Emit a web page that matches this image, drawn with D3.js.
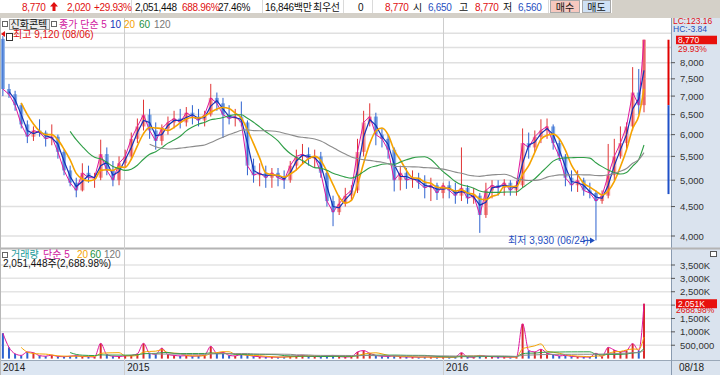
<!DOCTYPE html>
<html lang="ko">
<head>
<meta charset="UTF-8">
<title>신화콘텍</title>
<script src="https://d3js.org/d3.v7.min.js"></script>
<style>
  body { margin: 0; padding: 0; background: #fff; }
  svg { display: block; font-family: "Liberation Sans", "Noto Sans CJK KR", sans-serif; font-size: 10px; }
  .hdr { letter-spacing: -0.3px; }
  .ax { font-size: 9.5px; }
  .ax2 { font-size: 8.5px; }
</style>
</head>
<body>
<div id="chart"></div>
<script>
// weekly bars (last one = 08/18)
const open = [
  8800, 7200, 7050, 6750, 6250, 5950, 6100, 6050, 5900, 5950,
  5600, 5200, 4950, 4800, 5150, 5050, 5050, 5550, 5200, 5000,
  5350, 5500, 5900, 6200, 6500, 6100, 5850, 6150, 6300, 6400,
  6300, 6550, 6450, 6350, 6500, 6950, 6800, 6500, 6400, 6450,
  6300, 5300, 5100, 5150, 5050, 5150, 5050, 5000, 5300, 5500,
  5550, 5450, 5500, 5150, 4600, 4400, 4550, 4700, 4800, 5600,
  6300, 6450, 6000, 5900, 5650, 5000, 5150, 5000, 5050, 4950,
  4850, 4900, 4750, 4900, 4800, 4700, 4850, 4650, 4700, 4350,
  4800, 4900, 4850, 4950, 4800, 4900, 5800, 5700, 5950, 6100,
  6200, 5800, 5500, 5050, 4900, 5000, 4800, 4750, 4600, 4700,
  5100, 5500, 5800, 6200, 7100, 6750
];
const high = [
  8900, 7350, 7150, 6800, 6350, 6200, 6380, 6100, 6250, 6000,
  5650, 5300, 5050, 5350, 5300, 5150, 5880, 5700, 5400, 5500,
  5650, 6050, 6400, 6900, 6650, 6300, 6250, 6450, 6600, 6650,
  6700, 6750, 6650, 6600, 7350, 7100, 6950, 6750, 6650, 6850,
  6350, 5450, 5350, 5300, 5250, 5250, 5200, 5400, 5650, 5780,
  5700, 5650, 5600, 5200, 4700, 4700, 4850, 4900, 5900, 6600,
  6800, 6550, 6150, 6000, 5700, 5300, 5250, 5200, 5150, 5100,
  5050, 4950, 4950, 4980, 4950, 5700, 4900, 4850, 4750, 4950,
  5000, 5000, 5020, 5000, 4980, 6150, 6050, 6100, 6380, 6400,
  6250, 5900, 5550, 5200, 5200, 5050, 4950, 4800, 4800, 5780,
  5900, 6200, 6300, 7860, 7800, 8770
];
const low = [
  7000, 6950, 6600, 6150, 5800, 5850, 5950, 5720, 5750, 5450,
  5100, 4880, 4670, 4780, 4950, 4850, 5000, 5100, 4880, 4900,
  5250, 5450, 5800, 6100, 5900, 5650, 5750, 6000, 6150, 6150,
  6200, 6250, 6200, 6200, 6450, 6600, 5920, 6250, 6200, 6200,
  5100, 4950, 4880, 4850, 4850, 4880, 4830, 4950, 5200, 5350,
  5300, 5250, 5050, 4500, 4160, 4350, 4500, 4600, 4750, 5500,
  6200, 5750, 5700, 5450, 4780, 4800, 4830, 4850, 4830, 4650,
  4600, 4620, 4650, 4650, 4550, 4600, 4550, 4550, 4050, 4300,
  4650, 4700, 4700, 4700, 4700, 4850, 5450, 5600, 5800, 5900,
  5650, 5400, 4880, 4780, 4770, 4700, 4650, 3930, 4550, 4650,
  5000, 5450, 5650, 6100, 6500, 6560
];
const close = [
  7200, 7050, 6750, 6250, 5950, 6100, 6050, 5900, 5950, 5600,
  5200, 4950, 4800, 5150, 5050, 5050, 5550, 5200, 5000, 5350,
  5500, 5900, 6200, 6500, 6100, 5850, 6150, 6300, 6400, 6300,
  6550, 6450, 6350, 6500, 6950, 6800, 6500, 6400, 6450, 6300,
  5300, 5100, 5150, 5050, 5150, 5050, 5000, 5300, 5500, 5550,
  5450, 5500, 5150, 4600, 4400, 4550, 4700, 4800, 5600, 6300,
  6450, 6000, 5900, 5650, 5000, 5150, 5000, 5050, 4950, 4850,
  4900, 4750, 4900, 4800, 4700, 4850, 4650, 4700, 4350, 4800,
  4900, 4850, 4950, 4800, 4900, 5800, 5700, 5950, 6100, 6200,
  5800, 5500, 5050, 4900, 5000, 4800, 4750, 4600, 4700, 5100,
  5500, 5800, 6200, 7100, 6750, 8770
];
const volume = [
  950000, 420000, 180000, 120000, 250000, 220000, 110000, 90000, 130000, 80000,
  70000, 90000, 110000, 80000, 70000, 60000, 570000, 150000, 90000, 80000,
  100000, 120000, 180000, 570000, 200000, 160000, 390000, 150000, 120000, 100000,
  110000, 90000, 100000, 130000, 460000, 200000, 240000, 120000, 100000, 150000,
  130000, 90000, 70000, 60000, 60000, 50000, 60000, 80000, 100000, 130000,
  90000, 80000, 70000, 110000, 120000, 80000, 60000, 70000, 250000, 300000,
  200000, 120000, 90000, 80000, 100000, 70000, 60000, 60000, 50000, 60000,
  60000, 50000, 60000, 50000, 60000, 220000, 60000, 50000, 120000, 90000,
  70000, 60000, 60000, 50000, 60000, 1300000, 300000, 250000, 350000, 200000,
  150000, 100000, 120000, 80000, 70000, 60000, 60000, 200000, 80000, 420000,
  320000, 250000, 300000, 560000, 300000, 2051448
];

const priceTicks = [4000, 4500, 5000, 5500, 6000, 6500, 7000, 7500, 8000];
const priceGrid = [4000, 4500, 5000, 5500, 6000, 6500, 7000, 7500, 8000, 8500, 9000];
const volTicks = [500000, 1000000, 1500000, 2500000, 3000000, 3500000];
const volTickLabels = ['500,000', '1,000K', '1,500K', '2,500K', '3,000K', '3,500K'];
const volGrid = [500000, 1000000, 1500000, 2000000, 2500000, 3000000, 3500000];
const todayRange = [8770, 6750, 4730]; // 현재가, 전일종가, 하단

// 5/10/20/60/120 day MAs, as week windows
const priceMA = [
  { n: 1, color: '#e0169e', w: 1 },
  { n: 2, color: '#1432b8', w: 1.2 },
  { n: 4, color: '#f5a300', w: 1.6 },
  { n: 12, color: '#2e9e46', w: 1.1 },
  { n: 25, color: '#8c8c8c', w: 1.1 }
];
const volMA = [
  { n: 1, color: '#e0169e' },
  { n: 4, color: '#f5a300' },
  { n: 12, color: '#2e9e46' },
  { n: 25, color: '#8c8c8c' }
];

const RED = '#e01010', BLUE = '#1f4fbf';
const width = 720, height = 375;
const plotR = 671;

const dates = d3.timeFriday.range(new Date(2014, 7, 15), new Date(2016, 7, 13));
dates.push(new Date(2016, 7, 18));
const bars = dates.map((d, i) => ({ date: d, o: open[i], h: high[i], l: low[i], c: close[i], v: volume[i] }));

const x = d3.scaleTime().domain([new Date(2014, 7, 14), new Date(2016, 7, 18)]).range([2, 644]);
const yP = d3.scaleLog().domain([4000, 8000]).range([236, 62.7]);
const yV = d3.scaleLinear().domain([0, 3500000]).range([358.6, 265]);

function movingAvg(arr, n) {
  return arr.map((v, i) => i < n - 1 ? null : d3.mean(arr.slice(i - n + 1, i + 1)));
}

const svg = d3.select('#chart').append('svg')
  .attr('width', width)
  .attr('height', height);

// ---- header row ----
svg.append('rect').attr('x', 0).attr('y', 0).attr('width', width).attr('height', 14).attr('fill', '#fff');
svg.append('rect').attr('x', 612).attr('y', 0).attr('width', 108).attr('height', 14).attr('fill', '#d4d0c8');
svg.append('rect').attr('x', 0).attr('y', 13).attr('width', width).attr('height', 5).attr('fill', '#d4d0c8');
[131, 262, 343, 372, 548].forEach(px => {
  svg.append('line').attr('x1', px + 0.5).attr('x2', px + 0.5).attr('y1', 0).attr('y2', 13).attr('stroke', '#dadada');
});

const header = [
  { t: '8,770', x: 22, c: RED }, { t: '2,020', x: 67, c: RED }, { t: '+29.93%', x: 94, c: RED },
  { t: '2,051,448', x: 135, c: '#111' }, { t: '688.96%', x: 182, c: RED }, { t: '27.46%', x: 218, c: '#111' },
  { t: '16,846백만', x: 265, c: '#111' }, { t: '최우선', x: 313, c: '#111' }, { t: '0', x: 358, c: '#111' },
  { t: '8,770', x: 385, c: RED }, { t: '시', x: 413, c: '#111' }, { t: '6,650', x: 428, c: BLUE },
  { t: '고', x: 459, c: '#111' }, { t: '8,770', x: 475, c: RED }, { t: '저', x: 503, c: '#111' },
  { t: '6,560', x: 518, c: BLUE }
];
svg.append('g').attr('class', 'hdr').selectAll('text').data(header).join('text')
  .attr('x', d => d.x).attr('y', 11)
  .attr('fill', d => d.c)
  .text(d => d.t);

// up arrow next to price
svg.append('path')
  .attr('d', 'M50,6.5 L54,2 L58,6.5 L55.5,6.5 L55.5,11 L52.5,11 L52.5,6.5 Z')
  .attr('fill', RED);

// buy / sell buttons
svg.append('rect').attr('x', 550.5).attr('y', 0.5).attr('width', 29).attr('height', 12).attr('fill', '#f6c8bf').attr('stroke', '#a8a8a8');
svg.append('text').attr('x', 565).attr('y', 10.5).attr('text-anchor', 'middle').attr('fill', '#111').text('매수');
svg.append('rect').attr('x', 582.5).attr('y', 0.5).attr('width', 28).attr('height', 12).attr('fill', '#cfe1f5').attr('stroke', '#a8a8a8');
svg.append('text').attr('x', 596.5).attr('y', 10.5).attr('text-anchor', 'middle').attr('fill', '#111').text('매도');

// ---- right axis column + bottom band ----
svg.append('rect').attr('x', plotR).attr('y', 18).attr('width', width - plotR).attr('height', height - 18).attr('fill', '#dae3ee');
svg.append('rect').attr('x', 0).attr('y', 361).attr('width', plotR).attr('height', 14).attr('fill', '#dce6f2');
svg.append('line').attr('x1', 0).attr('x2', width).attr('y1', 360.5).attr('y2', 360.5).attr('stroke', '#9aa8b8');
svg.append('line').attr('x1', plotR + 0.5).attr('x2', plotR + 0.5).attr('y1', 18).attr('y2', height).attr('stroke', '#8a9bb0');
svg.append('line').attr('x1', 0).attr('x2', width).attr('y1', 248.5).attr('y2', 248.5).attr('stroke', '#b4b4b4').attr('stroke-width', 2);

// ---- gridlines ----
const grid = svg.append('g');
grid.selectAll('line.pg').data(priceGrid).join('line')
  .attr('x1', 0).attr('x2', plotR)
  .attr('y1', d => yP(d)).attr('y2', d => yP(d))
  .attr('stroke', '#e0e0e0').attr('stroke-width', 1.5);
grid.selectAll('line.vg').data(volGrid).join('line')
  .attr('x1', 0).attr('x2', plotR)
  .attr('y1', d => yV(d)).attr('y2', d => yV(d))
  .attr('stroke', '#e4e4e4').attr('stroke-width', 1.5);

const years = x.ticks(d3.timeYear.every(1));
grid.selectAll('line.yr').data(years).join('line')
  .attr('x1', d => Math.round(x(d)) + 0.5).attr('x2', d => Math.round(x(d)) + 0.5)
  .attr('y1', 18).attr('y2', height)
  .attr('stroke', '#cdcdcd');
svg.append('line').attr('x1', 0.5).attr('x2', 0.5).attr('y1', 18).attr('y2', height).attr('stroke', '#b8b8b8');

// year labels
svg.append('text').attr('x', 3).attr('y', 371).attr('fill', '#222').text('2014');
svg.append('g').selectAll('text').data(years).join('text')
  .attr('x', d => x(d) + 3).attr('y', 371).attr('fill', '#222')
  .text(d3.timeFormat('%Y'));
svg.append('text').attr('x', 679).attr('y', 371).attr('fill', '#222').text('08/18');

// ---- candles ----
svg.append('clipPath').attr('id', 'clipP').append('rect').attr('x', 0).attr('y', 18).attr('width', plotR).attr('height', 230);
const candles = svg.append('g').attr('clip-path', 'url(#clipP)');
candles.selectAll('rect').data(bars).join('rect')
  .attr('x', d => x(d.date) - 2)
  .attr('width', 4)
  .attr('y', d => yP(Math.max(d.o, d.c)))
  .attr('height', d => Math.max(1, Math.abs(yP(d.o) - yP(d.c))))
  .attr('fill', d => d.c >= d.o ? '#f39a9a' : '#86aee6');
candles.selectAll('line').data(bars).join('line')
  .attr('x1', d => x(d.date)).attr('x2', d => x(d.date))
  .attr('y1', d => yP(d.h)).attr('y2', d => yP(d.l))
  .attr('stroke', d => d.c >= d.o ? '#e03535' : '#2d62cf')
  .attr('stroke-width', 1);

// price MAs
priceMA.forEach(m => {
  const vals = movingAvg(close, m.n);
  const line = d3.line()
    .defined((d, i) => vals[i] != null)
    .x(d => x(d.date))
    .y((d, i) => yP(vals[i]))
    .curve(m.n >= 4 ? d3.curveMonotoneX : d3.curveLinear);
  candles.append('path').datum(bars)
    .attr('d', line)
    .attr('fill', 'none')
    .attr('stroke', m.color)
    .attr('stroke-width', m.w);
});

// today's range bar by the axis
svg.append('line').attr('x1', 668.5).attr('x2', 668.5)
  .attr('y1', yP(todayRange[0])).attr('y2', yP(todayRange[1]))
  .attr('stroke', '#e00000').attr('stroke-width', 2);
svg.append('line').attr('x1', 668.5).attr('x2', 668.5)
  .attr('y1', yP(todayRange[1])).attr('y2', yP(todayRange[2]))
  .attr('stroke', '#1f50c8').attr('stroke-width', 2);

// price axis labels
const pAxis = svg.append('g').attr('class', 'ax');
pAxis.selectAll('line').data(priceTicks).join('line')
  .attr('x1', plotR).attr('x2', plotR + 4)
  .attr('y1', d => yP(d)).attr('y2', d => yP(d))
  .attr('stroke', '#555');
pAxis.selectAll('text').data(priceTicks).join('text')
  .attr('x', 680).attr('y', d => yP(d) + 3.5)
  .attr('fill', '#333')
  .text(d3.format(','));
svg.append('text').attr('class', 'ax2').attr('x', 673).attr('y', 24).attr('fill', RED).text('LC:123.16');
svg.append('text').attr('class', 'ax2').attr('x', 673).attr('y', 32).attr('fill', BLUE).text('HC:-3.84');
svg.append('rect').attr('x', 676).attr('y', yP(8770) - 4).attr('width', 41).attr('height', 8.5).attr('fill', '#e8100c');
svg.append('text').attr('class', 'ax2').attr('x', 678).attr('y', yP(8770) + 3.3).attr('fill', '#fff').text('8,770');
svg.append('text').attr('class', 'ax2').attr('x', 678).attr('y', 52).attr('fill', RED).text('29.93%');

// price panel legend
svg.append('rect').attr('x', 2.5).attr('y', 21.5).attr('width', 5).attr('height', 5).attr('fill', '#fff').attr('stroke', '#666');
svg.append('rect').attr('x', 9.5).attr('y', 19.5).attr('width', 40).attr('height', 10).attr('fill', '#ececec').attr('stroke', '#9a9a9a');
svg.append('text').attr('x', 10.5).attr('y', 28).attr('fill', '#111').text('신화콘텍');
svg.append('rect').attr('x', 51.5).attr('y', 21.5).attr('width', 5).attr('height', 5).attr('fill', '#fff').attr('stroke', '#666');
const pLegend = [
  { t: '종가 단순 5', x: 59, c: '#d0169e' }, { t: '10', x: 110, c: '#1432b8' },
  { t: '20', x: 124, c: '#f5a300' }, { t: '60', x: 139, c: '#1e9040' }, { t: '120', x: 154, c: '#777' }
];
svg.append('g').selectAll('text').data(pLegend).join('text')
  .attr('x', d => d.x).attr('y', 28).attr('fill', d => d.c).text(d => d.t);

// highest marker (off to the left)
svg.append('path').attr('d', 'M1,34 L5,31 L5,37 Z').attr('fill', RED);
svg.append('rect').attr('x', 6.5).attr('y', 33.5).attr('width', 6).attr('height', 7).attr('fill', '#fff').attr('stroke', '#333');
svg.append('text').attr('x', 13).attr('y', 37.5).attr('fill', RED).text('최고 9,120 (08/06)');

// lowest marker
const iLow = low.indexOf(d3.min(low));
const lowX = x(dates[iLow]);
svg.append('text').attr('x', lowX - 88).attr('y', yP(low[iLow]) + 4).attr('fill', BLUE).text('최저 3,930 (06/24)');
svg.append('line').attr('x1', lowX - 12).attr('x2', lowX - 3)
  .attr('y1', yP(low[iLow])).attr('y2', yP(low[iLow]))
  .attr('stroke', BLUE);
svg.append('path')
  .attr('d', `M${lowX - 1},${yP(low[iLow])} l-5,-3 l0,6 Z`)
  .attr('fill', BLUE);

// ---- volume ----
svg.append('clipPath').attr('id', 'clipV').append('rect').attr('x', 0).attr('y', 250).attr('width', plotR).attr('height', 110);
const vol = svg.append('g').attr('clip-path', 'url(#clipV)');
vol.selectAll('rect').data(bars).join('rect')
  .attr('x', d => x(d.date) - 1)
  .attr('width', 2)
  .attr('y', d => yV(d.v))
  .attr('height', d => yV(0) - yV(d.v))
  .attr('fill', d => d.c >= d.o ? '#d92a2a' : '#2d62cf');

volMA.forEach(m => {
  const vals = movingAvg(volume, m.n);
  const line = d3.line()
    .defined((d, i) => vals[i] != null)
    .x(d => x(d.date))
    .y((d, i) => yV(vals[i]))
    .curve(d3.curveMonotoneX);
  vol.append('path').datum(bars)
    .attr('d', line)
    .attr('fill', 'none')
    .attr('stroke', m.color)
    .attr('stroke-width', 1);
});

// volume axis labels
const vAxis = svg.append('g').attr('class', 'ax');
vAxis.selectAll('line').data(volGrid).join('line')
  .attr('x1', plotR).attr('x2', plotR + 4)
  .attr('y1', d => yV(d)).attr('y2', d => yV(d))
  .attr('stroke', '#555');
vAxis.selectAll('text').data(volTicks).join('text')
  .attr('x', 680).attr('y', d => yV(d) + 3.5)
  .attr('fill', '#333')
  .text((d, i) => volTickLabels[i]);
svg.append('rect').attr('x', 676).attr('y', yV(2051448) - 4.5).attr('width', 41).attr('height', 9).attr('fill', '#e8100c');
svg.append('text').attr('class', 'ax2').attr('x', 678).attr('y', yV(2051448) + 3.3).attr('fill', '#fff').text('2,051K');
svg.append('text').attr('class', 'ax2').attr('x', 676).attr('y', 313).attr('fill', RED).text('2688.98%');
svg.append('rect').attr('x', 710.5).attr('y', 251.5).attr('width', 6).attr('height', 5).attr('fill', '#fff').attr('stroke', '#555');

// volume legend
svg.append('rect').attr('x', 2.5).attr('y', 252.5).attr('width', 5).attr('height', 5).attr('fill', '#fff').attr('stroke', '#666');
const vLegend = [
  { t: '거래량', x: 11, c: '#1a9a9a' }, { t: '단순 5', x: 43, c: '#d0169e' },
  { t: '20', x: 77, c: '#f5a300' }, { t: '60', x: 90, c: '#1e9040' }, { t: '120', x: 104, c: '#777' }
];
svg.append('g').selectAll('text').data(vLegend).join('text')
  .attr('x', d => d.x).attr('y', 258).attr('fill', d => d.c).text(d => d.t);
svg.append('text').attr('x', 3).attr('y', 267).attr('fill', '#111').text('2,051,448주(2,688.98%)');
</script>
</body>
</html>
